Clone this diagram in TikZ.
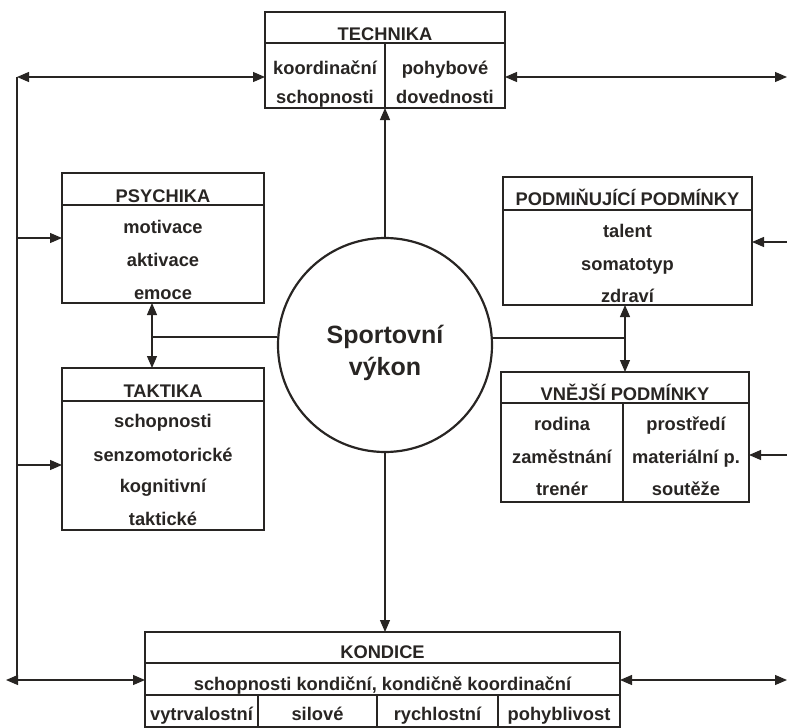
\documentclass[tikz,border=0pt]{standalone}
\usepackage{fontspec}
\setmainfont{Liberation Sans}
\usetikzlibrary{arrows.meta}
\definecolor{ink}{RGB}{40,37,35}
\begin{document}
\begin{tikzpicture}[x=1pt,y=-1pt,
  box/.style={draw=ink, line width=2.6pt, inner sep=0pt, outer sep=0pt},
  sep/.style={draw=ink, line width=2.4pt},
  con/.style={draw=ink, line width=1.2pt},
  arr/.style={con, -{Triangle[length=12pt,width=10pt]}},
  darr/.style={con, {Triangle[length=12pt,width=10pt]}-{Triangle[length=12pt,width=10pt]}},
  txt/.style={anchor=base, inner sep=0pt, text=ink, font=\fontsize{18.3}{22}\selectfont\bfseries},
  big/.style={anchor=base, inner sep=0pt, text=ink, font=\fontsize{25}{30}\selectfont\bfseries}
]
\useasboundingbox (0,0) rectangle (787,728);

% boxes
\node[box, minimum width=240pt, minimum height=96pt] (tech) at (385,60) {};
\node[box, minimum width=202pt, minimum height=130pt] (psy) at (163,238) {};
\node[box, minimum width=202pt, minimum height=162pt] (tak) at (163,449) {};
\node[box, minimum width=249pt, minimum height=128pt] (pod) at (627.5,241) {};
\node[box, minimum width=248pt, minimum height=130pt] (vne) at (625,437) {};
\node[box, minimum width=475pt, minimum height=95pt] (kond) at (382.5,679.5) {};
\node[draw=ink, line width=2.2pt, circle, minimum size=214pt, inner sep=0pt] (circ) at (385,345) {};

% inner separators
\draw[sep] (tech.west |- 0,43) -- (tech.east |- 0,43);
\draw[sep] (tech.south |- 0,43) -- (tech.south);
\draw[sep] (psy.west |- 0,205) -- (psy.east |- 0,205);
\draw[sep] (tak.west |- 0,401) -- (tak.east |- 0,401);
\draw[sep] (pod.west |- 0,210) -- (pod.east |- 0,210);
\draw[sep] (vne.west |- 0,403) -- (vne.east |- 0,403);
\draw[sep] (623,403) -- (vne.south -| 623,403);
\draw[sep] (kond.west |- 0,663) -- (kond.east |- 0,663);
\draw[sep] (kond.west |- 0,695) -- (kond.east |- 0,695);
\draw[sep] (258,695) -- (kond.south -| 258,695);
\draw[sep] (377,695) -- (kond.south -| 377,695);
\draw[sep] (498,695) -- (kond.south -| 498,695);

% texts
\node[txt] (tT) at (385,40) {TECHNIKA};
\node[txt] (tT1) at (325,74) {koordinační};
\node[txt] (tT2) at (325,103) {schopnosti};
\node[txt] (tT3) at (445,74) {pohybové};
\node[txt] (tT4) at (445,103) {dovednosti};

\node[txt] (tP) at (163,202) {PSYCHIKA};
\node[txt] (tP1) at (163,233) {motivace};
\node[txt] (tP2) at (163,266) {aktivace};
\node[txt] (tP3) at (163,299) {emoce};

\node[txt] (tK) at (163,397) {TAKTIKA};
\node[txt] (tK1) at (163,427) {schopnosti};
\node[txt] (tK2) at (163,461) {senzomotorické};
\node[txt] (tK3) at (163,492) {kognitivní};
\node[txt] (tK4) at (163,525) {taktické};

\node[txt] (tD) at (627.5,205) {PODMIŇUJÍCÍ PODMÍNKY};
\node[txt] (tD1) at (627.5,237) {talent};
\node[txt] (tD2) at (627.5,270) {somatotyp};
\node[txt] (tD3) at (627.5,302) {zdraví};

\node[txt] (tV) at (625,400) {VNĚJŠÍ PODMÍNKY};
\node[txt] (tV1) at (562,430) {rodina};
\node[txt] (tV2) at (562,463) {zaměstnání};
\node[txt] (tV3) at (562,495) {trenér};
\node[txt] (tV4) at (686,430) {prostředí};
\node[txt] (tV5) at (686,463) {materiální p.};
\node[txt] (tV6) at (686,495) {soutěže};

\node[txt] (tC) at (382.5,658) {KONDICE};
\node[txt] (tC1) at (382.5,690) {schopnosti kondiční, kondičně koordinační};
\node[txt] (tC2) at (201.5,720) {vytrvalostní};
\node[txt] (tC3) at (317.5,720) {silové};
\node[txt] (tC4) at (437.5,720) {rychlostní};
\node[txt] (tC5) at (559,720) {pohyblivost};

\node[big] (s1) at (385,343) {Sportovní};
\node[big] (s2) at (385,375) {výkon};

% left bus
\coordinate (bTop) at (17,77);
\coordinate (bBot) at (17,680);
\coordinate (bTip) at (6,680);
\coordinate (bPsy) at (17,238);
\coordinate (bTak) at (17,465);
\draw[con] (bTop) -- (bBot);
\draw[darr] (bTop) -- (tech.west |- bTop);
\draw[arr] (bPsy) -- (psy.west |- bPsy);
\draw[arr] (bTak) -- (tak.west |- bTak);
\draw[darr] (bTip) -- (kond.west |- bTip);

% right side
\coordinate (rTop) at (787,77);
\coordinate (rPod) at (787,242);
\coordinate (rVne) at (787,455);
\coordinate (rKon) at (787,680);
\draw[darr] (tech.east |- rTop) -- (rTop);
\draw[arr] (rPod) -- (pod.east |- rPod);
\draw[arr] (rVne) -- (vne.east |- rVne);
\draw[darr] (kond.east |- rKon) -- (rKon);

% centre connections
\draw[arr] (circ.north) -- (tech.south);
\draw[arr] (circ.south) -- (circ.south |- kond.north);
\coordinate (lj) at (152,337);
\coordinate (rj) at (625,338);
\draw[darr] (psy.south -| lj) -- (tak.north -| lj);
\draw[con] (lj) -- (circ.west |- lj);
\draw[darr] (pod.south -| rj) -- (vne.north -| rj);
\draw[con] (circ.east |- rj) -- (rj);
\end{tikzpicture}
\end{document}
